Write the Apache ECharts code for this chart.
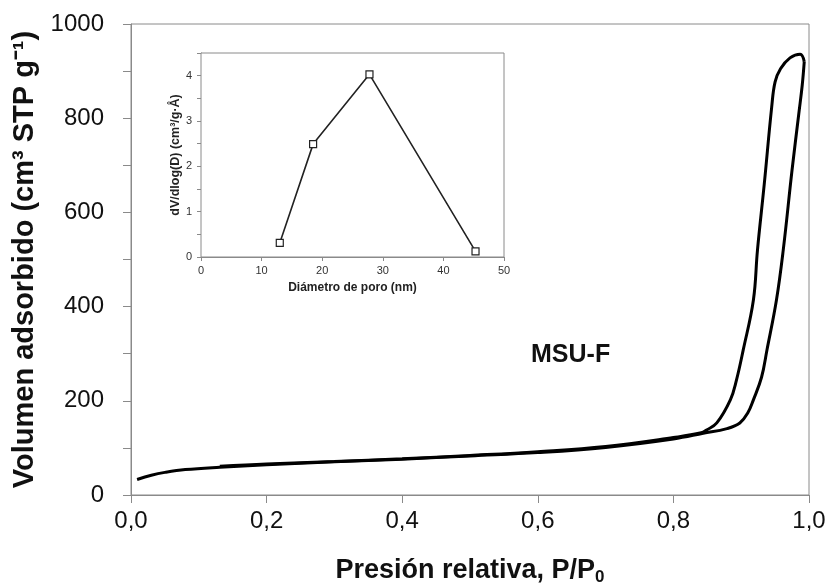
<!DOCTYPE html>
<html>
<head>
<meta charset="utf-8">
<script src="https://cdn.jsdelivr.net/npm/echarts@6/dist/echarts.min.js"></script>
<style>html,body{margin:0;padding:0;background:#fff}#c{width:830px;height:584px}</style>
</head>
<body>
<div id="c"></div>
<script>
// Isotherm: adsorption branch
const adsP = [0.009, 0.03, 0.05, 0.08, 0.131, 0.2, 0.3, 0.4, 0.5, 0.6, 0.7, 0.8, 0.844, 0.879, 0.898, 0.91, 0.918, 0.93, 0.938, 0.952, 0.962, 0.975, 0.985, 0.99, 0.993];
const adsV = [33, 42, 48, 54, 59, 64, 70.5, 76, 83, 90, 101, 119, 131, 141, 153, 175, 202, 250, 308, 414, 520, 690, 810, 870, 920];
// Desorption branch
const desP = [0.993, 0.987, 0.972, 0.958, 0.95, 0.945, 0.934, 0.924, 0.918, 0.903, 0.893, 0.884, 0.864, 0.849, 0.841, 0.8, 0.7, 0.6, 0.5, 0.4, 0.3, 0.2, 0.131];
const desV = [920, 936, 928, 905, 877, 824, 660, 520, 414, 308, 244, 202, 153, 138, 132, 122, 103, 92, 84, 77, 71, 66, 61];
// Inset: pore size distribution
const poreD = [13, 18.5, 27.8, 45.3];
const poreDV = [0.31, 2.49, 4.03, 0.125];

const xTicks = ['0,0','0,2','0,4','0,6','0,8','1,0'];
const yTicks = ['0','200','400','600','800','1000'];

const zip = (a, b) => a.map((v, i) => [v, b[i]]);
const axisGray = '#8a8a8a';
const font = 'Liberation Sans, Arial, sans-serif';

const chart = echarts.init(document.getElementById('c'));
chart.setOption({
  animation: false,
  backgroundColor: '#fff',
  grid: [
    {left: 131, right: 21, top: 24, bottom: 89, show: true, borderColor: axisGray, borderWidth: 1, containLabel: false, outerBoundsMode: 'none'},
    {left: 201, right: 326, top: 53, bottom: 327, show: true, borderColor: axisGray, borderWidth: 1, backgroundColor: '#fff', z: 5, containLabel: false, outerBoundsMode: 'none'}
  ],
  xAxis: [
    {gridIndex: 0, type: 'value', min: 0, max: 1, interval: 0.2,
     axisLine: {lineStyle: {color: axisGray}}, axisTick: {inside: false, length: 8, lineStyle: {color: axisGray}},
     splitLine: {show: false},
     axisLabel: {margin: 14, fontSize: 24, color: '#111', fontFamily: font,
       formatter: v => xTicks[Math.round(v / 0.2)] || ''},
     name: 'Presión relativa, P/P{sub|0}', nameLocation: 'middle', nameGap: 61,
     nameTextStyle: {fontSize: 27, fontWeight: 'bold', color: '#111', fontFamily: font, lineHeight: 30,
       rich: {sub: {fontSize: 17, fontWeight: 'bold', color: '#111', fontFamily: font, verticalAlign: 'bottom', lineHeight: 15}}}},
    {gridIndex: 1, type: 'value', min: 0, max: 50, interval: 10,
     axisLine: {lineStyle: {color: axisGray}}, axisTick: {length: 4, lineStyle: {color: axisGray}},
     splitLine: {show: false},
     axisLabel: {margin: 8, fontSize: 11, color: '#333', fontFamily: font},
     name: 'Diámetro de poro (nm)', nameLocation: 'middle', nameGap: 25,
     nameTextStyle: {fontSize: 12, fontWeight: 'bold', color: '#222', fontFamily: font}}
  ],
  yAxis: [
    {gridIndex: 0, type: 'value', min: 0, max: 1000, interval: 100,
     axisLine: {show: true, lineStyle: {color: axisGray}}, axisTick: {show: true, length: 8, lineStyle: {color: axisGray}},
     splitLine: {show: false},
     axisLabel: {margin: 27, fontSize: 24, color: '#111', fontFamily: font,
       formatter: v => (Math.round(v) % 200 === 0 ? yTicks[Math.round(v / 200)] : '')},
     name: 'Volumen adsorbido (cm³ STP g⁻¹)', nameLocation: 'middle', nameGap: 85,
     nameTextStyle: {fontSize: 29, fontWeight: 'bold', color: '#111', fontFamily: font}},
    {gridIndex: 1, type: 'value', min: 0, max: 4.5, interval: 0.5,
     axisLine: {show: true, lineStyle: {color: axisGray}}, axisTick: {show: true, length: 4, lineStyle: {color: axisGray}},
     splitLine: {show: false},
     axisLabel: {margin: 9, fontSize: 11, color: '#333', fontFamily: font,
       formatter: v => (Math.abs(v - Math.round(v)) < 1e-6 ? String(Math.round(v)) : '')},
     name: 'dV/dlog(D) (cm³/g·Å)', nameLocation: 'middle', nameGap: 18,
     nameTextStyle: {fontSize: 12.5, fontWeight: 'bold', color: '#222', fontFamily: font}}
  ],
  series: [
    {type: 'line', xAxisIndex: 0, yAxisIndex: 0, data: zip(adsP, adsV), smooth: 0.4, showSymbol: false,
     lineStyle: {color: '#000', width: 3}},
    {type: 'line', xAxisIndex: 0, yAxisIndex: 0, data: zip(desP, desV), smooth: 0.4, showSymbol: false,
     lineStyle: {color: '#000', width: 3}},
    {type: 'line', xAxisIndex: 1, yAxisIndex: 1, data: zip(poreD, poreDV), z: 6,
     symbol: 'rect', symbolSize: 7, itemStyle: {color: '#fff', borderColor: '#222', borderWidth: 1.2},
     lineStyle: {color: '#222', width: 1.6}}
  ],
  graphic: [
    {type: 'text', left: 531, top: 343, style: {text: 'MSU-F', font: 'bold 25px ' + font, fill: '#111'}}
  ]
});
</script>
</body>
</html>
